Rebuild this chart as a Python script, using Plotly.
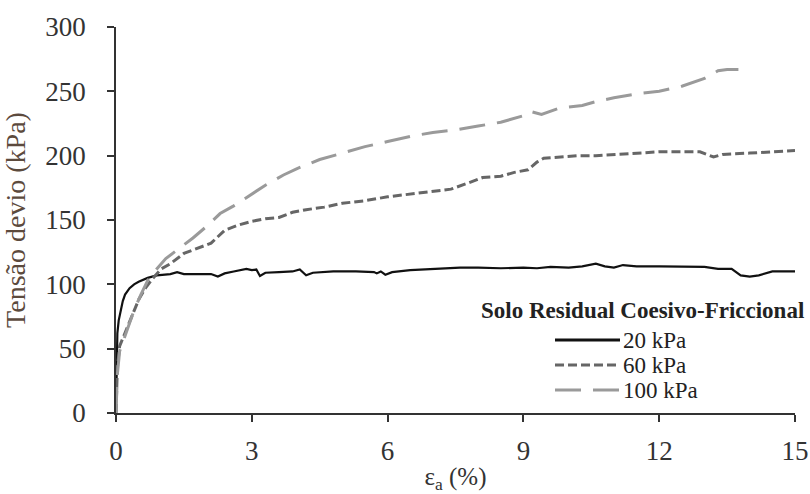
import plotly.graph_objects as go

# ---- data ----
x20 = [0, 0.01, 0.03, 0.06, 0.1, 0.15, 0.2, 0.3, 0.4, 0.5, 0.7, 0.9, 1.2, 1.35, 1.5, 1.8, 2.1, 2.25, 2.4, 2.6, 2.88, 3.0, 3.1, 3.18, 3.3, 3.6, 3.9, 4.06, 4.2, 4.35, 4.8, 5.3, 5.7, 5.76, 5.85, 5.95, 6.1, 6.5, 7.0, 7.6, 8.0, 8.5, 9.0, 9.3, 9.6, 10.0, 10.3, 10.6, 10.8, 11.0, 11.2, 11.5, 12.0, 12.5, 13.0, 13.3, 13.6, 13.8, 14.0, 14.2, 14.5, 15.0]
y20 = [0, 45, 62, 72, 80, 87, 92, 97, 100, 102, 105, 107, 108, 109.5, 108, 108, 108, 106, 108.5, 110, 112, 111, 111.5, 106.5, 109, 109.5, 110, 111.5, 107, 109, 110, 110, 109.5, 108.5, 110, 107.5, 109.5, 111, 112, 113, 113, 112.5, 113, 112.5, 113.5, 113, 114, 116, 114, 113, 115, 114, 114, 114, 113.5, 112, 112, 107, 106, 107, 110, 110]

x60 = [0, 0.03, 0.08, 0.15, 0.25, 0.35, 0.5, 0.65, 0.8, 1.0, 1.2, 1.5, 1.8, 2.1, 2.4, 2.7, 3.0, 3.3, 3.6, 3.9, 4.2, 4.6, 5.0, 5.5, 6.0, 6.5, 7.0, 7.4, 7.8, 8.1, 8.5, 8.8, 9.1, 9.3, 9.45, 9.8, 10.2, 10.6, 11.0, 11.5, 12.0, 12.5, 12.9, 13.2, 13.4, 14.0, 14.5, 15.0]
y60 = [0, 35, 52, 58, 66, 76, 88, 97, 104, 112, 116, 124, 128, 132, 142, 146, 149, 151, 152, 156, 158, 160, 163, 165, 168, 170, 172, 174, 179, 183, 184, 187, 189, 195, 198, 199, 200, 200, 201, 202, 203, 203, 203, 199, 201, 202, 203, 204]

x100 = [0, 0.03, 0.08, 0.15, 0.25, 0.4, 0.55, 0.7, 0.9, 1.1, 1.4, 1.7, 2.0, 2.3, 2.6, 3.0, 3.3, 3.7, 4.0, 4.5, 5.0, 5.5, 6.0, 6.5, 7.0, 7.5, 8.0, 8.5, 9.0, 9.15, 9.4, 9.8, 10.3, 10.6, 11.0, 11.5, 12.0, 12.5, 13.0, 13.3, 13.5, 13.75]
y100 = [0, 30, 48, 55, 65, 80, 92, 103, 112, 120, 128, 136, 145, 155, 161, 170, 177, 185, 190, 197, 202, 207, 211, 215, 218, 220, 223, 226, 231, 234.5, 232, 237, 239, 242, 245, 248, 250, 254, 260, 266, 267, 267]

names = ["20 kPa", "60 kPa", "100 kPa"]
legend_title = "Solo Residual Coesivo-Friccional"
x_ticks = [0, 3, 6, 9, 12, 15]
y_ticks = [0, 50, 100, 150, 200, 250, 300]

FONT = "Liberation Serif, Times New Roman, serif"
W, H = 810, 494
ML, MR, MT, MB = 116, 15, 27, 81
PW, PH = W - ML - MR, H - MT - MB


def px(x):
    return (x - ML) / PW


def py(y):
    return (H - MB - y) / PH


styles = [
    dict(color="#111111", width=2.2),
    dict(color="#666666", width=3, dash="9px,4px"),
    dict(color="#9a9a9a", width=3, dash="26px,12px"),
]

fig = go.Figure()
for xs, ys, nm, st in zip([x20, x60, x100], [y20, y60, y100], names, styles):
    fig.add_trace(go.Scatter(x=xs, y=ys, mode="lines", name=nm, line=st,
                             showlegend=False))

# manual legend (key)
shapes = []
annotations = [dict(text="<b>" + legend_title + "</b>", x=px(806), y=py(310),
                    xref="paper", yref="paper", xanchor="right", yanchor="middle",
                    showarrow=False, font=dict(size=23, color="#222222", family=FONT))]
rows = [340, 365, 390]
for nm, st, r in zip(names, styles, rows):
    ln = dict(color=st["color"], width=3, dash=st.get("dash", "solid"))
    shapes.append(dict(type="line", xref="paper", yref="paper",
                       x0=px(555), x1=px(620), y0=py(r), y1=py(r), line=ln))
    annotations.append(dict(text=nm, x=px(621), y=py(r), xref="paper", yref="paper",
                            xanchor="left", yanchor="middle", showarrow=False,
                            font=dict(size=23, color="#222222", family=FONT)))

fig.update_layout(
    width=W, height=H,
    margin=dict(l=ML, r=MR, t=MT, b=MB),
    paper_bgcolor="white", plot_bgcolor="white",
    font=dict(family=FONT, size=27, color="#333333"),
    showlegend=False,
    shapes=shapes,
    annotations=annotations,
)
fig.update_xaxes(range=[0, 15], tickvals=x_ticks, showgrid=False, zeroline=False,
                 showline=True, linecolor="#333333", linewidth=1.5, automargin=False,
                 ticks="outside", ticklen=7, tickcolor="#333333", tickwidth=1.5,
                 ticklabelstandoff=6,
                 title=dict(text="ε<sub>a</sub> (%)", font=dict(size=25), standoff=9))
fig.update_yaxes(range=[0, 300], tickvals=y_ticks, showgrid=False, zeroline=False,
                 showline=True, linecolor="#333333", linewidth=1.5, automargin=False,
                 ticks="outside", ticklen=7, tickcolor="#333333", tickwidth=1.5,
                 ticklabelstandoff=16,
                 title=dict(text="Tensão devio (kPa)", font=dict(size=28, color="#5c4a3d"), standoff=14))

fig.write_html("out.html")
